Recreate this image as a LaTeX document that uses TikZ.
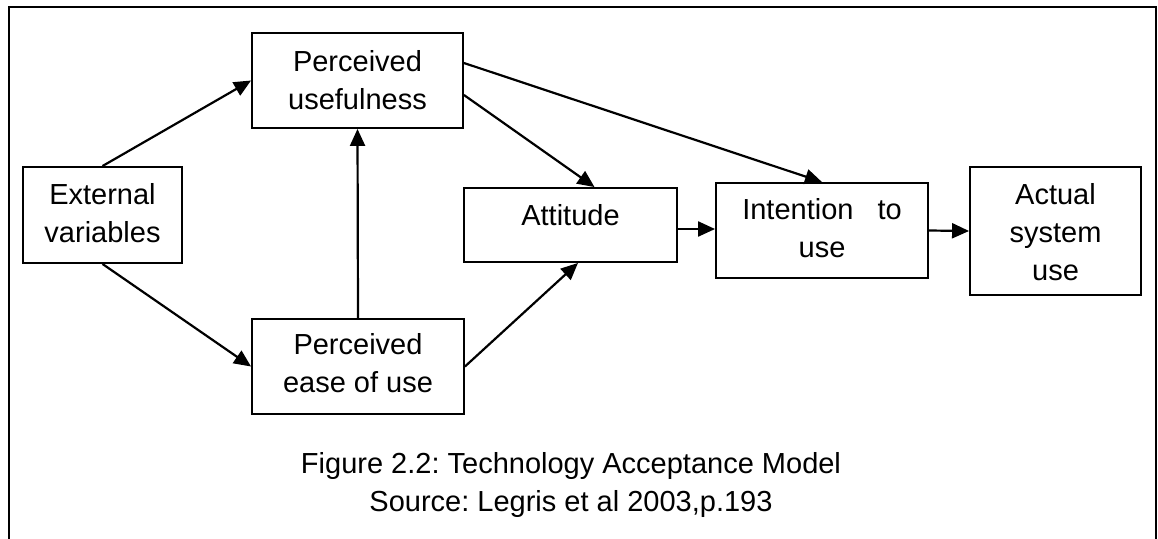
\documentclass[tikz,border=0pt]{standalone}
\usepackage{fontspec}
\setmainfont{Liberation Sans}
\usetikzlibrary{arrows.meta}
\frenchspacing
\begin{document}
\begin{tikzpicture}[x=1pt,y=-1pt,
  box/.style={draw, line width=1.9pt, rectangle, inner sep=0pt},
  txt/.style={anchor=north, inner sep=0pt, align=center,
    font=\fontsize{29}{38}\selectfont},
  link/.style={line width=2.2pt, -{Triangle[length=17pt,width=15pt]}}]
\useasboundingbox (0,0) rectangle (1158,538);
% outer frame, open at the lower edge
\begin{scope}
  \clip (0,0) rectangle (1158,538);
  \draw[line width=2.2pt] (9,7) rectangle (1156,560);
\end{scope}

% boxes
\node[box, minimum width=159pt, minimum height=96pt]  (ev)   at (102.5,215) {};
\node[box, minimum width=211pt, minimum height=95pt]  (pu)   at (357.5,80.5) {};
\node[box, minimum width=212pt, minimum height=95pt]  (peou) at (358,366.5) {};
\node[box, minimum width=213pt, minimum height=74pt]  (att)  at (570.5,225) {};
\node[box, minimum width=212pt, minimum height=95pt]  (int)  at (822,230.5) {};
\node[box, minimum width=171pt, minimum height=128pt] (act)  at (1055.5,231) {};

% box texts
\node[txt] (evt)   at ([yshift=-17pt]ev.north)   {External\\variables};
\node[txt] (put)   at ([yshift=-18pt]pu.north)   {Perceived\\usefulness};
\node[txt] (peout) at ([yshift=-15pt]peou.north) {Perceived\\ease of use};
\node[txt] (attt)  at ([yshift=-17pt]att.north)  {Attitude};
\node[txt] (intt)  at ([yshift=-16pt]int.north)  {Intention\hspace{16pt} to\\use};
\node[txt] (actt)  at ([yshift=-17pt]act.north)  {Actual\\system\\use};

% connectors
\draw[link] (ev.north) -- (pu.west);
\draw[link] (ev.south) -- (peou.west);
\draw[link] (peou.north) -- (pu.south);
\draw[link] ([yshift=-14.5pt]pu.east) -- ([xshift=24pt]att.north);
\draw[link] ([yshift=17.5pt]pu.east) -- (int.north);
\draw[link] (peou.east) -- ([xshift=7.5pt]att.south);
\draw[link] ([yshift=-4pt]att.east) -- ([yshift=-4pt]att.east -| int.west);
\draw[link] (int.east) -- (act.west);

% caption
\node[txt] (cap) at (571,452)
  {Figure 2.2: Technology Acceptance Model\\Source: Legris et al 2003,p.193};
\end{tikzpicture}
\end{document}
